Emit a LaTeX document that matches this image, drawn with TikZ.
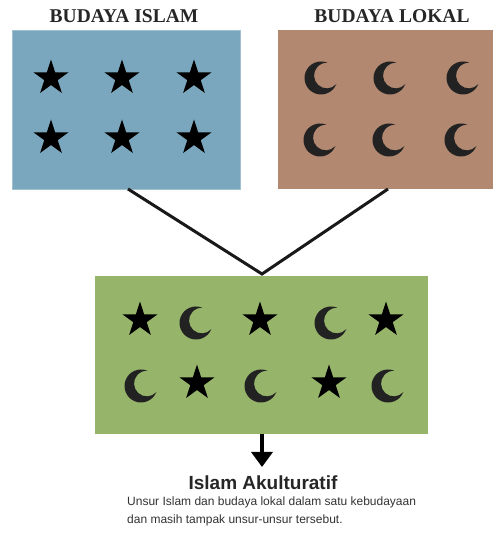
\documentclass[tikz,border=0pt]{standalone}
\usepackage{fontspec}
\setmainfont{Liberation Sans}
\newfontfamily\hdrfont{Liberation Serif}
\usetikzlibrary{shapes.geometric,arrows.meta}
\definecolor{boxblue}{HTML}{7AA7BD}
\definecolor{boxbrown}{HTML}{B28871}
\definecolor{boxgreen}{HTML}{96B46A}
\definecolor{moondark}{HTML}{222222}
\definecolor{txtdark}{HTML}{333333}
\tikzset{
  panel/.style={rectangle, inner sep=0pt, draw=none},
  hdr/.style={font=\hdrfont\bfseries\fontsize{19.5}{22}\selectfont, text=black!85, anchor=base, inner sep=0pt},
  starsym/.style={star, star points=5, star point ratio=2.618, minimum size=37pt, inner sep=0pt, fill=black, draw=none},
  link/.style={line width=3pt, black!90},
  moon/.pic={
    \fill[moondark] (68:16.5) arc[start angle=68, end angle=338, radius=16.5]
      arc[start angle=-42.4, end angle=-271.7, radius=12.8] -- cycle;
  }
}
\begin{document}
\begin{tikzpicture}[x=1pt,y=1pt]
\useasboundingbox (0,0) rectangle (493,537);
\fill[white] (0,0) rectangle (493,537);

% panels
\node[panel, fill=boxblue, draw=boxblue!70!white, line width=0.6pt, minimum width=228pt, minimum height=159pt] (islam) at (126,427.5) {};
\node[panel, fill=boxbrown, minimum width=215pt, minimum height=159pt] (lokal) at (385.5,427.5) {};
\node[panel, fill=boxgreen, minimum width=333pt, minimum height=158pt] (akul) at (261.5,182) {};

% headers
\node[hdr] (hislam) at (124,514) {BUDAYA ISLAM};
\node[hdr] (hlokal) at (392,514) {BUDAYA LOKAL};

% stars in Islam panel
\node[starsym] (s1) at (51,459) {};
\node[starsym] (s2) at (122,459) {};
\node[starsym] (s3) at (194,459) {};
\node[starsym] (s4) at (51,399) {};
\node[starsym] (s5) at (122,399) {};
\node[starsym] (s6) at (194,399) {};

% moons in Lokal panel
\pic (m1) at (321,459) {moon};
\pic (m2) at (390,459) {moon};
\pic (m3) at (463,459) {moon};
\pic (m4) at (320,397) {moon};
\pic (m5) at (389,397) {moon};
\pic (m6) at (461,397) {moon};

% green panel mixture
\node[starsym] (g1) at (140,217) {};
\pic (g2) at (196,214) {moon};
\node[starsym] (g3) at (260,217) {};
\pic (g4) at (331,214) {moon};
\node[starsym] (g5) at (386,217) {};
\pic (g6) at (141,151) {moon};
\node[starsym] (g7) at (197,154) {};
\pic (g8) at (261,151) {moon};
\node[starsym] (g9) at (329,154) {};
\pic (g10) at (388,151) {moon};

% V connector
\coordinate (lfoot) at (128,348);
\coordinate (rfoot) at (388,348);
\coordinate (apex) at (262,263);
\draw[link, line join=miter] (lfoot) -- (apex) -- (rfoot);

% arrow
\coordinate (abot) at (262,103);
\coordinate (atip) at (262,70);
\draw[line width=3.5pt, -{Triangle[width=21pt,length=15pt]}] (abot) -- (atip);

% caption
\node[anchor=base, inner sep=0pt, font=\bfseries\fontsize{19}{22}\selectfont, text=black!85] (title) at (263,47) {Islam Akulturatif};
\node[anchor=base west, inner sep=0pt, font=\fontsize{12}{14}\selectfont, text=txtdark] (line1) at (127,31) {Unsur Islam dan budaya lokal dalam satu kebudayaan};
\node[anchor=base west, inner sep=0pt, font=\fontsize{12}{14}\selectfont, text=txtdark] (line2) at (127,13) {dan masih tampak unsur-unsur tersebut.};
\end{tikzpicture}
\end{document}
